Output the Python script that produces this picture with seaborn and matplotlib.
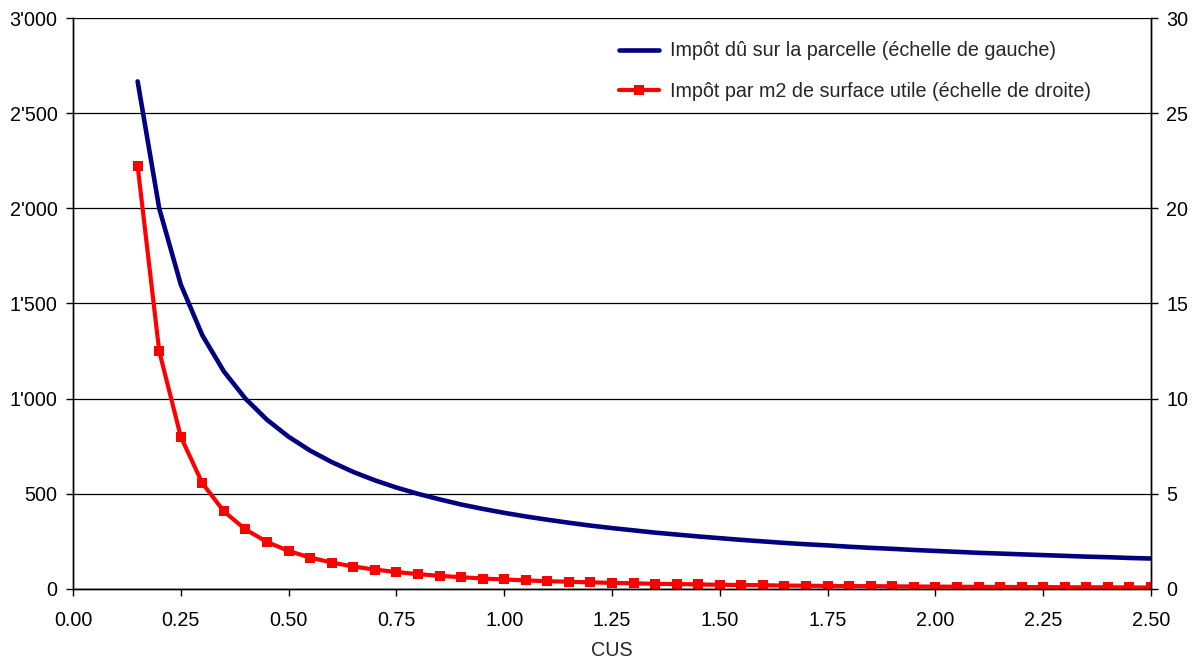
import matplotlib
matplotlib.use("Agg")
import matplotlib.pyplot as plt
from matplotlib.ticker import FuncFormatter, MultipleLocator
import seaborn as sns
import pandas as pd

cus = [0.15, 0.20, 0.25, 0.30, 0.35, 0.40, 0.45, 0.50, 0.55, 0.60, 0.65, 0.70,
       0.75, 0.80, 0.85, 0.90, 0.95, 1.00, 1.05, 1.10, 1.15, 1.20, 1.25, 1.30,
       1.35, 1.40, 1.45, 1.50, 1.55, 1.60, 1.65, 1.70, 1.75, 1.80, 1.85, 1.90,
       1.95, 2.00, 2.05, 2.10, 2.15, 2.20, 2.25, 2.30, 2.35, 2.40, 2.45, 2.50]
impot_parcelle = [2667, 2000, 1600, 1333, 1143, 1000, 889, 800, 727, 667, 615, 571,
                  533, 500, 471, 444, 421, 400, 381, 364, 348, 333, 320, 308,
                  296, 286, 276, 267, 258, 250, 242, 235, 229, 222, 216, 211,
                  205, 200, 195, 190, 186, 182, 178, 174, 170, 167, 163, 160]
impot_m2 = [22.22, 12.5, 8.0, 5.56, 4.08, 3.13, 2.47, 2.0, 1.65, 1.39, 1.18, 1.02,
            0.89, 0.78, 0.69, 0.62, 0.55, 0.50, 0.45, 0.41, 0.38, 0.35, 0.32, 0.30,
            0.27, 0.26, 0.24, 0.22, 0.21, 0.20, 0.18, 0.17, 0.16, 0.15, 0.15, 0.14,
            0.13, 0.125, 0.12, 0.11, 0.11, 0.10, 0.10, 0.09, 0.09, 0.09, 0.08, 0.08]
label_left = "Impôt dû sur la parcelle (échelle de gauche)"
label_right = "Impôt par m2 de surface utile (échelle de droite)"
x_label = "CUS"

df = pd.DataFrame({"cus": cus, "parcelle": impot_parcelle, "m2": impot_m2})

sns.set_style("white")
plt.rcParams["font.family"] = ["Liberation Sans", "DejaVu Sans"]
FS = 14.2
plt.rcParams["font.size"] = FS

fig = plt.figure(figsize=(11.98, 6.62), dpi=100)
ax = fig.add_axes([0.0609, 0.1103, 0.9608 - 0.0609, 0.9728 - 0.1103])
ax2 = ax.twinx()

sns.lineplot(data=df, x="cus", y="parcelle", ax=ax, color="#000080", linewidth=3.3,
             label=label_left, legend=False)
sns.lineplot(data=df, x="cus", y="m2", ax=ax2, color="#FF0000", linewidth=3.0,
             marker="s", markersize=7.5, markeredgewidth=0, label=label_right, legend=False)

ax.set_xlim(0, 2.5)
ax.set_ylim(0, 3000)
ax2.set_ylim(0, 30)
ax.xaxis.set_major_locator(MultipleLocator(0.25))
ax.yaxis.set_major_locator(MultipleLocator(500))
ax2.yaxis.set_major_locator(MultipleLocator(5))
ax.xaxis.set_major_formatter(FuncFormatter(lambda v, p: f"{v:.2f}"))
ax.yaxis.set_major_formatter(FuncFormatter(lambda v, p: f"{int(v):,}".replace(",", "'")))
ax2.yaxis.set_major_formatter(FuncFormatter(lambda v, p: f"{int(v)}"))

ax.grid(axis="y", color="black", linewidth=0.9)
ax.grid(axis="x", visible=False)
ax.set_axisbelow(True)

for a in (ax, ax2):
    a.spines["top"].set_visible(False)
    for s in ("left", "right", "bottom"):
        a.spines[s].set_color("black")
        a.spines[s].set_linewidth(1.0)
    a.tick_params(direction="out", length=5, width=1, color="black", labelsize=FS,
                  labelcolor="black")
ax.tick_params(axis="x", pad=11, bottom=True)
ax.tick_params(axis="y", left=True, pad=6)
ax2.tick_params(axis="y", right=True, pad=6)

ax.set_xlabel(x_label, fontsize=FS, labelpad=8)
ax.set_ylabel("")
ax2.set_ylabel("")

h1, l1 = ax.get_legend_handles_labels()
h2, l2 = ax2.get_legend_handles_labels()
ax2.legend(h1 + h2, l1 + l2, loc="upper left", bbox_to_anchor=(0.49, 0.99),
           frameon=False, fontsize=FS, labelspacing=1.1, handlelength=2.05,
           handletextpad=0.55)

fig.savefig("out.png", dpi=100)
